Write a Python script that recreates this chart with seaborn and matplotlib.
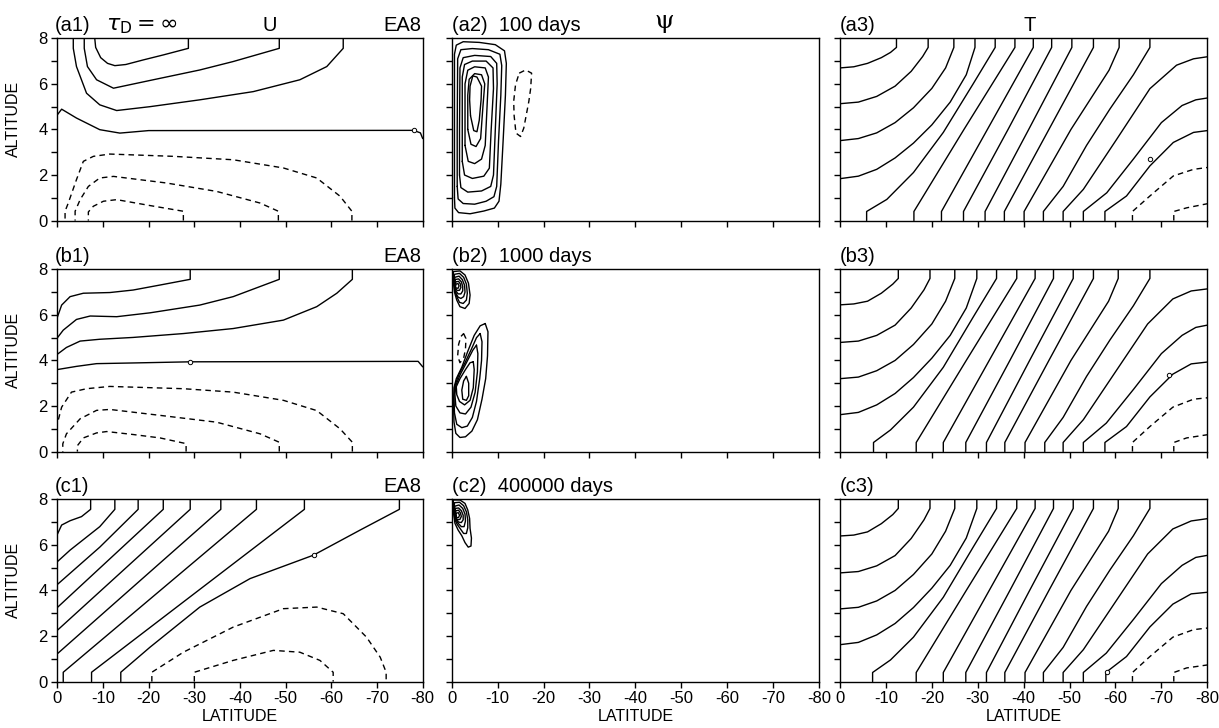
import numpy as np
import pandas as pd
import matplotlib
matplotlib.use("Agg")
import matplotlib.pyplot as plt
import seaborn as sns

sns.set_style("ticks")
plt.rcParams["font.family"] = ["Liberation Sans", "DejaVu Sans"]
plt.rcParams["axes.unicode_minus"] = False
plt.rcParams["mathtext.fontset"] = "dejavusans"
for k in ["text.color", "axes.labelcolor", "xtick.color", "ytick.color", "axes.edgecolor"]:
    plt.rcParams[k] = "black"

# ---------------------------------------------------------------- data
LAT_TICKS = [0, -10, -20, -30, -40, -50, -60, -70, -80]
LAT_LABELS = ["0", "-10", "-20", "-30", "-40", "-50", "-60", "-70", "-80"]
ALT_TICKS = [0, 2, 4, 6, 8]
ALT_MINOR = [1, 3, 5, 7]

ROW_TITLES = ["(a1)", "(b1)", "(c1)"]
PSI_TITLES = ["(a2)  100 days", "(b2)  1000 days", "(c2)  400000 days"]
T_TITLES = ["(a3)", "(b3)", "(c3)"]
RUN_LABEL = "EA8"

# contour lines traced as (latitude, altitude) points
A1_SOLID = [
    [(-8.2, 8), (-8.4, 7.6), (-9.5, 7.15), (-11, 6.9), (-12.6, 6.8), (-15, 6.85), (-18.8, 7.05), (-23.2, 7.27), (-28.7, 7.56), (-28.7, 8)],
    [(-5.9, 8), (-5.9, 7.56), (-6.6, 6.76), (-8.6, 6.18), (-12.3, 5.81), (-21, 6.18), (-31.2, 6.61), (-38.5, 6.98), (-48.6, 7.56), (-48.6, 8)],
    [(-3.5, 8), (-3.5, 7.56), (-4.2, 6.76), (-6.4, 5.59), (-9.3, 5.08), (-13, 4.83), (-20.3, 5.0), (-31.2, 5.3), (-42.9, 5.66), (-53.1, 6.18), (-59, 6.76), (-62.6, 7.56), (-62.6, 8)],
    [(0, 4.64), (-0.95, 4.89), (-4.2, 4.5), (-9.3, 3.99), (-13.7, 3.84), (-20, 3.95), (-78, 3.96), (-79.5, 3.85), (-80, 3.6)],
]
A1_DASHED = [
    [(-64.5, 0), (-64.5, 0.41), (-61.9, 1.07), (-56.8, 1.87), (-49.5, 2.31), (-38.5, 2.67), (-25.4, 2.82), (-11.5, 2.92), (-7.9, 2.82), (-5.7, 2.6), (-4.2, 1.8), (-2.4, 0.77), (-1.7, 0.41), (-1.7, 0)],
    [(-48.4, 0), (-48.4, 0.41), (-44.4, 0.77), (-34.9, 1.28), (-23.9, 1.65), (-12.3, 1.94), (-9.3, 1.87), (-6.8, 1.5), (-5, 0.92), (-3.9, 0.41), (-3.9, 0)],
    [(-27.6, 0), (-27.6, 0.41), (-20.3, 0.66), (-13, 0.92), (-10.1, 0.85), (-7.9, 0.63), (-6.8, 0.38), (-6.8, 0)],
]
A1_MARKS = [(-78, 3.96)]

B1_SOLID = [
    [(0, 5.89), (-0.95, 6.43), (-2.8, 6.8), (-5.7, 6.95), (-11.5, 6.98), (-16.6, 7.09), (-22.5, 7.31), (-29.1, 7.56), (-29.1, 8)],
    [(0, 4.99), (-1.3, 5.33), (-4.2, 5.8), (-7.2, 5.95), (-13, 5.92), (-20.3, 6.09), (-31.2, 6.43), (-38.5, 6.8), (-48.6, 7.56), (-48.6, 8)],
    [(0, 4.27), (-2, 4.57), (-5, 4.85), (-9.3, 4.93), (-16.6, 5.01), (-27.6, 5.18), (-38.5, 5.4), (-49.5, 5.77), (-56.8, 6.36), (-61.2, 6.95), (-64.6, 7.56), (-64.6, 8)],
    [(0, 3.6), (-4.2, 3.74), (-8.6, 3.86), (-16.6, 3.89), (-29.1, 3.94), (-79, 3.96), (-80, 3.72)],
]
B1_DASHED = [
    [(-64.6, 0), (-64.6, 0.41), (-61.9, 1.0), (-56.8, 1.8), (-49.5, 2.25), (-38.5, 2.61), (-27.6, 2.76), (-11.5, 2.86), (-6.4, 2.76), (-3.1, 2.61), (-0.95, 1.95), (0, 1.22)],
    [(-48.6, 0), (-48.6, 0.41), (-44.4, 0.78), (-34.9, 1.29), (-22.5, 1.59), (-11.5, 1.85), (-8.6, 1.81), (-5, 1.44), (-2, 0.78), (-1.2, 0.34), (-1.2, 0)],
    [(-28.2, 0), (-28.2, 0.35), (-22.5, 0.6), (-16.6, 0.75), (-10.8, 0.88), (-8.6, 0.82), (-5.7, 0.6), (-4.4, 0.26), (-4.4, 0)],
]
B1_MARKS = [(-29.1, 3.94)]

C1_SOLID = [
    [(0, 6.46), (-0.95, 6.87), (-2.8, 7.06), (-5.3, 7.24), (-7.3, 7.56), (-7.3, 8)],
    [(0, 5.26), (-2.8, 5.77), (-9.3, 6.8), (-12.6, 7.56), (-12.6, 8)],
    [(0, 4.26), (-9.3, 5.9), (-17.7, 7.56), (-17.7, 8)],
    [(0, 3.25), (-23.2, 7.56), (-23.2, 8)],
    [(0, 2.25), (-29.1, 7.56), (-29.1, 8)],
    [(0, 1.22), (-35.8, 7.56), (-35.8, 8)],
    [(-1.3, 0), (-1.3, 0.41), (-43.6, 7.56), (-43.6, 8)],
    [(-7.5, 0), (-7.5, 0.41), (-54.1, 7.56), (-54.1, 8)],
    [(-13.9, 0), (-13.9, 0.41), (-20.3, 1.51), (-31.2, 3.27), (-42.2, 4.52), (-56.1, 5.55), (-66.3, 6.65), (-74.9, 7.56), (-74.9, 8)],
]
C1_DASHED = [
    [(-20.7, 0), (-20.7, 0.41), (-27.6, 1.29), (-38.5, 2.39), (-49.5, 3.2), (-56.8, 3.27), (-62.6, 2.98), (-67.7, 1.95), (-70.7, 1.07), (-72, 0.41), (-72, 0)],
    [(-30, 0), (-30, 0.41), (-38.5, 0.93), (-47.3, 1.37), (-53.1, 1.29), (-57.5, 0.93), (-60.4, 0.41), (-60.4, 0)],
]
C1_MARKS = [(-56.1, 5.55)]

A2_SOLID = [
    [(-0.6, 1.0), (-0.7, 0.55), (-1.5, 0.35), (-4, 0.3), (-7, 0.42), (-9.3, 0.55), (-10.3, 0.85), (-10.7, 1.6), (-11.2, 3.5), (-11.7, 5.5), (-11.9, 6.9), (-11.5, 7.45), (-9.5, 7.72), (-6, 7.82), (-2.5, 7.85), (-1, 7.7), (-0.6, 7.3), (-0.6, 4), (-0.6, 1.0)],
    [(-1.2, 1.5), (-1.4, 0.95), (-2.5, 0.75), (-5, 0.72), (-7.5, 0.85), (-9.2, 1.05), (-9.8, 1.5), (-10.2, 3.5), (-10.7, 5.5), (-10.9, 6.8), (-10.5, 7.3), (-8, 7.5), (-4.5, 7.55), (-2, 7.5), (-1.3, 7.1), (-1.2, 4), (-1.2, 1.5)],
    [(-1.7, 2), (-2, 1.45), (-3.5, 1.25), (-6.5, 1.3), (-8.5, 1.5), (-9.1, 2), (-9.5, 4), (-9.9, 6), (-9.8, 6.9), (-8.5, 7.2), (-5, 7.25), (-2.5, 7.15), (-1.8, 6.7), (-1.7, 4), (-1.7, 2)],
    [(-2.3, 2.6), (-2.8, 2.0), (-4.5, 1.85), (-7, 1.95), (-8.2, 2.3), (-8.6, 4), (-9.1, 5.8), (-9, 6.7), (-7.5, 7.0), (-4.5, 7.0), (-2.8, 6.85), (-2.3, 6.3), (-2.3, 4), (-2.3, 2.6)],
    [(-2.9, 3.3), (-3.6, 2.6), (-5, 2.5), (-6.5, 2.7), (-7.3, 3.3), (-7.7, 5), (-8, 6.3), (-7.3, 6.7), (-5, 6.75), (-3.5, 6.6), (-2.9, 6), (-2.9, 3.3)],
    [(-3.5, 4), (-4.2, 3.35), (-5.3, 3.25), (-6.3, 3.6), (-6.8, 5), (-7.2, 6), (-6.5, 6.4), (-5, 6.45), (-3.8, 6.2), (-3.5, 5.5), (-3.5, 4)],
    [(-4.1, 4.6), (-4.8, 3.95), (-5.5, 3.9), (-6.0, 4.4), (-6.4, 5.3), (-6.5, 5.9), (-5.5, 6.3), (-4.6, 6.35), (-4.0, 5.9), (-3.9, 5.3), (-4.1, 4.6)],
]
A2_DASHED = [
    [(-14.7, 6.47), (-16.1, 6.61), (-17.4, 6.47), (-17.2, 5.8), (-16.8, 5.23), (-15.7, 4.06), (-15.0, 3.69), (-14.0, 3.84), (-13.6, 4.6), (-13.5, 5.23), (-13.9, 5.96), (-14.7, 6.47)],
]

B2_SOLID = [
    [(-0.36, 7.46), (-0.36, 7.9), (-1.8, 7.93), (-2.9, 7.75), (-3.65, 7.39), (-4.0, 6.87), (-3.8, 6.5), (-2.9, 6.28), (-1.8, 6.36), (-1.1, 6.65), (-0.6, 7.0), (-0.36, 7.46)],
    [(-0.5, 7.4), (-0.6, 7.78), (-1.7, 7.82), (-2.6, 7.65), (-3.2, 7.35), (-3.4, 6.95), (-3.2, 6.65), (-2.5, 6.5), (-1.7, 6.55), (-1.1, 6.8), (-0.7, 7.05), (-0.5, 7.4)],
    [(-0.6, 7.35), (-0.7, 7.65), (-1.6, 7.7), (-2.3, 7.55), (-2.8, 7.3), (-2.9, 7.0), (-2.6, 6.8), (-2.0, 6.72), (-1.4, 6.78), (-0.9, 6.95), (-0.6, 7.35)],
    [(-0.65, 7.3), (-0.8, 7.55), (-1.5, 7.58), (-2.1, 7.45), (-2.4, 7.25), (-2.4, 7.05), (-2.0, 6.92), (-1.4, 6.92), (-0.9, 7.05), (-0.65, 7.3)],
    [(-0.7, 7.28), (-0.9, 7.45), (-1.5, 7.47), (-1.9, 7.35), (-2.0, 7.2), (-1.7, 7.08), (-1.2, 7.07), (-0.85, 7.15), (-0.7, 7.28)],
    [(-0.8, 7.25), (-1.0, 7.36), (-1.4, 7.37), (-1.6, 7.27), (-1.4, 7.17), (-1.0, 7.17), (-0.8, 7.25)],
    [(-7.3, 5.62), (-7.9, 5.26), (-7.8, 4.2), (-7.4, 3.2), (-6.6, 2.3), (-5.6, 1.4), (-4.4, 0.9), (-3.0, 0.65), (-1.8, 0.62), (-0.9, 0.8), (-0.5, 1.3), (-0.4, 2.1), (-0.5, 2.8), (-1.0, 3.2), (-2.2, 3.7), (-3.5, 4.4), (-4.9, 5.1), (-6.2, 5.52), (-7.3, 5.62)],
    [(-6.2, 5.18), (-6.6, 4.82), (-6.5, 4.0), (-6.1, 3.2), (-5.4, 2.2), (-4.5, 1.5), (-3.4, 1.12), (-2.2, 1.05), (-1.1, 1.2), (-0.6, 1.7), (-0.5, 2.4), (-0.7, 2.9), (-1.6, 3.4), (-2.9, 3.9), (-4.3, 4.5), (-5.4, 5.0), (-6.2, 5.18)],
    [(-5.4, 4.67), (-5.7, 4.3), (-5.6, 3.5), (-5.1, 2.6), (-4.2, 1.95), (-3.0, 1.65), (-1.8, 1.7), (-0.9, 2.0), (-0.7, 2.5), (-0.9, 2.9), (-1.9, 3.4), (-3.2, 3.9), (-4.6, 4.45), (-5.4, 4.67)],
    [(-4.7, 3.94), (-4.9, 3.6), (-4.7, 2.8), (-4.0, 2.25), (-2.8, 2.05), (-1.7, 2.2), (-1.1, 2.5), (-1.0, 2.85), (-1.8, 3.2), (-3.0, 3.6), (-4.0, 3.9), (-4.7, 3.94)],
    [(-3.2, 3.3), (-3.7, 3.0), (-3.7, 2.45), (-3.2, 2.25), (-2.4, 2.3), (-2.2, 2.7), (-2.6, 3.1), (-3.2, 3.3)],
]
B2_DASHED = [
    [(-2.6, 5.18), (-3.1, 4.96), (-3.0, 4.5), (-2.6, 4.1), (-1.8, 3.9), (-1.3, 4.2), (-1.5, 4.7), (-2.0, 5.05), (-2.6, 5.18)],
]

C2_SOLID = [
    [(-0.36, 7.46), (-0.36, 7.97), (-1.8, 7.97), (-2.9, 7.82), (-3.5, 7.53), (-3.9, 7.16), (-4.0, 6.72), (-4.3, 6.3), (-4.2, 5.95), (-3.6, 5.9), (-2.9, 6.1), (-2.2, 6.4), (-1.4, 6.65), (-0.7, 6.95), (-0.36, 7.46)],
    [(-0.5, 7.45), (-0.6, 7.85), (-1.7, 7.87), (-2.6, 7.72), (-3.2, 7.45), (-3.5, 7.1), (-3.5, 6.75), (-3.2, 6.5), (-2.6, 6.5), (-1.9, 6.7), (-1.2, 6.9), (-0.7, 7.1), (-0.5, 7.45)],
    [(-0.6, 7.4), (-0.7, 7.7), (-1.6, 7.75), (-2.4, 7.6), (-2.9, 7.35), (-3.0, 7.05), (-2.7, 6.8), (-2.1, 6.8), (-1.4, 6.95), (-0.9, 7.1), (-0.6, 7.4)],
    [(-0.7, 7.35), (-0.8, 7.6), (-1.5, 7.62), (-2.1, 7.5), (-2.5, 7.3), (-2.5, 7.1), (-2.1, 6.98), (-1.5, 7.0), (-1.0, 7.12), (-0.7, 7.35)],
    [(-0.8, 7.3), (-0.9, 7.5), (-1.5, 7.52), (-1.9, 7.4), (-2.1, 7.25), (-1.8, 7.12), (-1.3, 7.1), (-0.95, 7.18), (-0.8, 7.3)],
    [(-0.9, 7.28), (-1.05, 7.4), (-1.45, 7.41), (-1.7, 7.3), (-1.5, 7.2), (-1.1, 7.2), (-0.9, 7.28)],
]
C2_DASHED = []

A3_SOLID = [
    [(0, 6.7), (-3, 6.75), (-6, 6.9), (-9, 7.15), (-11, 7.38), (-12.3, 7.6), (-12.3, 8)],
    [(0, 5.13), (-4, 5.2), (-8, 5.45), (-12, 5.9), (-15.5, 6.55), (-18, 7.2), (-19.2, 7.6), (-19.2, 8)],
    [(0, 3.51), (-4, 3.6), (-8, 3.85), (-12, 4.3), (-16, 4.95), (-20, 5.8), (-23, 6.7), (-24.8, 7.6), (-24.8, 8)],
    [(0, 1.84), (-4, 1.95), (-8, 2.25), (-12, 2.75), (-16, 3.4), (-20, 4.2), (-24, 5.2), (-27.5, 6.4), (-29.4, 7.6), (-29.4, 8)],
    [(-5.8, 0), (-5.8, 0.4), (-10.2, 0.93), (-16, 2.11), (-22.5, 3.87), (-29, 6.0), (-33.8, 7.6), (-33.8, 8)],
    [(-16.1, 0), (-16.1, 0.4), (-27, 4.0), (-38.1, 7.6), (-38.1, 8)],
    [(-22.1, 0), (-22.1, 0.4), (-32.1, 4.0), (-42.1, 7.6), (-42.1, 8)],
    [(-26.9, 0), (-26.9, 0.4), (-36.6, 4.0), (-46.1, 7.6), (-46.1, 8)],
    [(-31.6, 0), (-31.6, 0.4), (-41.1, 4.0), (-50.5, 7.6), (-50.5, 8)],
    [(-35.8, 0), (-35.8, 0.4), (-45.5, 4.0), (-55.2, 7.6), (-55.2, 8)],
    [(-40.1, 0), (-40.1, 0.4), (-50.3, 4.0), (-58.6, 6.6), (-60.8, 7.6), (-60.8, 8)],
    [(-44.3, 0), (-44.3, 0.4), (-48.6, 1.5), (-53.7, 3.3), (-58.8, 4.9), (-63.9, 6.4), (-67.5, 7.6), (-67.5, 8)],
    [(-48.6, 0), (-48.6, 0.4), (-53, 1.37), (-60.3, 3.58), (-67.5, 5.79), (-73.3, 6.82), (-77, 7.1), (-80, 7.19)],
    [(-53, 0), (-53, 0.4), (-58.1, 1.22), (-63.9, 2.7), (-70, 4.3), (-74.5, 5.05), (-77.5, 5.3), (-80, 5.38)],
    [(-57.7, 0), (-57.7, 0.4), (-62.4, 1.08), (-67.5, 2.4), (-72.6, 3.43), (-77, 3.87), (-80, 3.95)],
]
A3_DASHED = [
    [(-63.7, 0), (-63.7, 0.4), (-67.5, 1.08), (-72.6, 1.96), (-77, 2.25), (-80, 2.33)],
    [(-72.7, 0), (-72.7, 0.4), (-75.5, 0.56), (-80, 0.74)],
]
A3_MARKS = [(-67.5, 2.7)]

B3_SOLID = [
    [(0, 6.44), (-3, 6.48), (-6, 6.6), (-9, 6.95), (-11.5, 7.35), (-12.7, 7.6), (-12.7, 8)],
    [(0, 4.79), (-4, 4.85), (-8, 5.1), (-12, 5.55), (-15.5, 6.3), (-18.3, 7.1), (-19.6, 7.6), (-19.6, 8)],
    [(0, 3.2), (-4, 3.27), (-8, 3.55), (-12, 4.0), (-16, 4.7), (-20, 5.6), (-23, 6.6), (-25, 7.6), (-25, 8)],
    [(0, 1.62), (-4, 1.72), (-8, 2.05), (-12, 2.55), (-16, 3.25), (-20, 4.1), (-24, 5.1), (-27.5, 6.3), (-29.8, 7.6), (-29.8, 8)],
    [(-7.3, 0), (-7.3, 0.4), (-11, 0.95), (-16, 1.95), (-22.5, 3.7), (-29, 5.9), (-34.1, 7.6), (-34.1, 8)],
    [(-16.6, 0), (-16.6, 0.4), (-27.5, 4.0), (-38.5, 7.6), (-38.5, 8)],
    [(-22.5, 0), (-22.5, 0.4), (-32.5, 4.0), (-42.5, 7.6), (-42.5, 8)],
    [(-27.4, 0), (-27.4, 0.4), (-37, 4.0), (-46.5, 7.6), (-46.5, 8)],
    [(-31.9, 0), (-31.9, 0.4), (-41.3, 4.0), (-50.8, 7.6), (-50.8, 8)],
    [(-35.9, 0), (-35.9, 0.4), (-45.5, 4.0), (-55.2, 7.6), (-55.2, 8)],
    [(-40.3, 0), (-40.3, 0.4), (-50.3, 4.0), (-58.5, 6.6), (-60.6, 7.6), (-60.6, 8)],
    [(-44.6, 0), (-44.6, 0.4), (-48.6, 1.5), (-53.7, 3.3), (-58.8, 4.9), (-63.9, 6.4), (-67.5, 7.6), (-67.5, 8)],
    [(-48.6, 0), (-48.6, 0.4), (-53, 1.4), (-60, 3.5), (-67, 5.6), (-72.5, 6.7), (-76.5, 7.05), (-80, 7.14)],
    [(-53, 0), (-53, 0.4), (-58, 1.25), (-64, 2.75), (-70, 4.3), (-74.5, 5.1), (-77.5, 5.45), (-80, 5.55)],
    [(-57.7, 0), (-57.7, 0.4), (-62.4, 1.1), (-67.5, 2.4), (-72.5, 3.4), (-76.5, 3.85), (-80, 3.93)],
]
B3_DASHED = [
    [(-63.7, 0), (-63.7, 0.4), (-67.5, 1.1), (-72.5, 1.95), (-77, 2.3), (-80, 2.36)],
    [(-72.7, 0), (-72.7, 0.4), (-75.5, 0.6), (-80, 0.74)],
]
B3_MARKS = [(-71.7, 3.36)]

C3_SOLID = [
    [(0, 6.39), (-3, 6.43), (-6, 6.57), (-9, 6.93), (-11.5, 7.33), (-12.7, 7.6), (-12.7, 8)],
    [(0, 4.77), (-4, 4.83), (-8, 5.08), (-12, 5.53), (-15.5, 6.28), (-18.3, 7.1), (-19.6, 7.6), (-19.6, 8)],
    [(0, 3.19), (-4, 3.26), (-8, 3.54), (-12, 4.0), (-16, 4.7), (-20, 5.6), (-23, 6.6), (-25, 7.6), (-25, 8)],
    [(0, 1.62), (-4, 1.72), (-8, 2.05), (-12, 2.55), (-16, 3.25), (-20, 4.1), (-24, 5.1), (-27.5, 6.3), (-29.8, 7.6), (-29.8, 8)],
    [(-7.1, 0), (-7.1, 0.4), (-11, 0.95), (-16, 1.95), (-22.5, 3.7), (-29, 5.9), (-34.1, 7.6), (-34.1, 8)],
    [(-16.6, 0), (-16.6, 0.4), (-27.5, 4.0), (-38.5, 7.6), (-38.5, 8)],
    [(-22.5, 0), (-22.5, 0.4), (-32.5, 4.0), (-42.5, 7.6), (-42.5, 8)],
    [(-27.4, 0), (-27.4, 0.4), (-37, 4.0), (-46.5, 7.6), (-46.5, 8)],
    [(-31.9, 0), (-31.9, 0.4), (-41.3, 4.0), (-50.8, 7.6), (-50.8, 8)],
    [(-35.9, 0), (-35.9, 0.4), (-45.5, 4.0), (-55.2, 7.6), (-55.2, 8)],
    [(-40.3, 0), (-40.3, 0.4), (-50.3, 4.0), (-58.5, 6.6), (-60.6, 7.6), (-60.6, 8)],
    [(-44.3, 0), (-44.3, 0.4), (-48.6, 1.5), (-53.7, 3.3), (-58.8, 4.9), (-63.9, 6.4), (-67.5, 7.6), (-67.5, 8)],
    [(-48.6, 0), (-48.6, 0.4), (-53, 1.4), (-60, 3.5), (-67, 5.6), (-72.5, 6.7), (-76.5, 7.05), (-80, 7.15)],
    [(-53, 0), (-53, 0.4), (-58, 1.25), (-64, 2.75), (-70, 4.3), (-74.5, 5.1), (-77.5, 5.45), (-80, 5.54)],
    [(-57.9, 0), (-57.9, 0.4), (-62.4, 1.1), (-67.5, 2.4), (-72.5, 3.4), (-76.5, 3.85), (-80, 3.92)],
]
C3_DASHED = [
    [(-63.7, 0), (-63.7, 0.4), (-67.5, 1.1), (-72.5, 1.95), (-77, 2.28), (-80, 2.35)],
    [(-72.7, 0), (-72.7, 0.4), (-75.5, 0.6), (-80, 0.73)],
]
C3_MARKS = [(-58.2, 0.4)]

PANELS = [
    [(A1_SOLID, A1_DASHED, A1_MARKS), (A2_SOLID, A2_DASHED, []), (A3_SOLID, A3_DASHED, A3_MARKS)],
    [(B1_SOLID, B1_DASHED, B1_MARKS), (B2_SOLID, B2_DASHED, []), (B3_SOLID, B3_DASHED, B3_MARKS)],
    [(C1_SOLID, C1_DASHED, C1_MARKS), (C2_SOLID, C2_DASHED, []), (C3_SOLID, C3_DASHED, C3_MARKS)],
]

# ---------------------------------------------------------------- layout
W, H = 1219, 728
fig = plt.figure(figsize=(W / 100, H / 100), dpi=100)
COL_LEFT = [57.3, 451.7, 840.0]
COL_W = [365.4, 367.3, 367.3]
ROW_TOP = [38.3, 269.3, 499.3]
AX_H = 182.3


def to_df(lines):
    rows = []
    for i, ln in enumerate(lines):
        for lat, alt in ln:
            rows.append((i, lat, alt))
    return pd.DataFrame(rows, columns=["line", "lat", "alt"])


def fx(x):
    return x / W


def fy(y):
    return 1 - y / H


TITLE_FS = 14.5
LW = 1.0
for r in range(3):
    for c in range(3):
        ax = fig.add_axes([fx(COL_LEFT[c]), fy(ROW_TOP[r] + AX_H), COL_W[c] / W, AX_H / H])
        solid, dashed, marks = PANELS[r][c]
        if solid:
            sns.lineplot(data=to_df(solid), x="lat", y="alt", units="line", estimator=None,
                         sort=False, color="black", lw=LW, ax=ax, legend=False)
        if dashed:
            sns.lineplot(data=to_df(dashed), x="lat", y="alt", units="line", estimator=None,
                         sort=False, color="black", lw=LW, linestyle=(0, (4, 3)), ax=ax,
                         legend=False)
        if marks:
            mx, my = zip(*marks)
            sns.scatterplot(x=list(mx), y=list(my), marker="o", s=10, color="white",
                            edgecolor="black", linewidth=0.7, ax=ax, zorder=5, legend=False)
        ax.set_xlim(0, -80)
        ax.set_ylim(0, 8)
        ax.set_xticks(LAT_TICKS)
        ax.set_yticks(ALT_TICKS)
        ax.set_yticks(ALT_MINOR, minor=True)
        ax.tick_params(which="both", direction="out", length=4.5, width=1.0,
                       labelsize=12, pad=2.5, colors="black")
        for s in ax.spines.values():
            s.set_linewidth(1.0)
            s.set_color("black")
        if r == 2:
            ax.set_xticklabels(LAT_LABELS)
            ax.set_xlabel("LATITUDE", fontsize=11.5)
            ax.xaxis.set_label_coords(0.5, -0.15)
        else:
            ax.set_xticklabels([""] * len(LAT_TICKS))
            ax.set_xlabel("")
        if c == 0:
            ax.set_yticklabels([str(v) for v in ALT_TICKS])
            ax.set_ylabel("ALTITUDE", fontsize=11.5)
            ax.yaxis.set_label_coords(-0.1, 0.555)
        else:
            ax.set_yticklabels([""] * len(ALT_TICKS))
            ax.set_ylabel("")

    base = ROW_TOP[r] - 7.5
    fig.text(fx(55), fy(base), ROW_TITLES[r], fontsize=TITLE_FS, va="baseline", ha="left")
    fig.text(fx(421), fy(base), RUN_LABEL, fontsize=TITLE_FS, va="baseline", ha="right")
    fig.text(fx(451.7), fy(base), PSI_TITLES[r], fontsize=TITLE_FS, va="baseline", ha="left")
    fig.text(fx(840), fy(base), T_TITLES[r], fontsize=TITLE_FS, va="baseline", ha="left")

fig.text(fx(106), fy(ROW_TOP[0] - 7.5), r"$\tau_{\mathrm{D}} = \infty$", fontsize=16,
         va="baseline", ha="left")
fig.text(fx(270), fy(ROW_TOP[0] - 7.5), "U", fontsize=TITLE_FS, va="baseline", ha="center")
fig.text(fx(664), fy(21.5), "\u03c8", fontsize=18, va="center", ha="center",
         family=["DejaVu Serif"])
fig.text(fx(1030), fy(ROW_TOP[0] - 7.5), "T", fontsize=TITLE_FS, va="baseline", ha="center")

fig.savefig("out.png", dpi=100, facecolor="white")
